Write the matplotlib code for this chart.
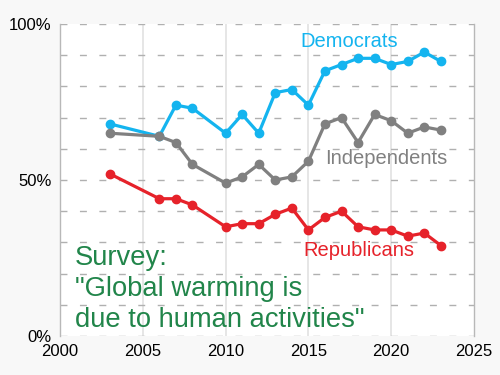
import matplotlib
matplotlib.use("Agg")
import matplotlib.pyplot as plt

plt.rcParams['font.family'] = ['Liberation Sans', 'DejaVu Sans']

years = [2003, 2006, 2007, 2008, 2010, 2011, 2012, 2013, 2014, 2015, 2016,
         2017, 2018, 2019, 2020, 2021, 2022, 2023]
democrats = [68, 64, 74, 73, 65, 71, 65, 78, 79, 74, 85, 87, 89, 89, 87, 88, 91, 88]
independents = [65, 64, 62, 55, 49, 51, 55, 50, 51, 56, 68, 70, 62, 71, 69, 65, 67, 66]
republicans = [52, 44, 44, 42, 35, 36, 36, 39, 41, 34, 38, 40, 35, 34, 34, 32, 33, 29]

x_ticks = [2000, 2005, 2010, 2015, 2020, 2025]
y_ticks = [0, 50, 100]
y_tick_labels = ['0%', '50%', '100%']
survey_lines = ['Survey:', '"Global warming is', 'due to human activities"']

c_dem = '#14b4ef'
c_ind = '#808080'
c_rep = '#e6222a'
c_green = '#21854a'

fig = plt.figure(figsize=(5, 3.75), dpi=100)
fig.patch.set_facecolor('#f8f8f8')
ax = fig.add_axes([0.12, 0.104, 0.828, 0.832])
ax.set_facecolor('white')
ax.set_xlim(2000, 2025)
ax.set_ylim(0, 100)

for v in [2005, 2010, 2015, 2020]:
    ax.axvline(v, color='#e4e4e4', lw=1.3, zorder=0)
for v in range(0, 101, 10):
    ax.axhline(v, color='#b0b0b0', lw=1.0, dashes=(5, 9), zorder=0)

for vals, col in [(democrats, c_dem), (independents, c_ind), (republicans, c_rep)]:
    ax.plot(years, vals, color=col, lw=2.3, marker='o', ms=6, zorder=3)

ax.text(2017.47, 94.5, 'Democrats', color=c_dem, fontsize=14.5, ha='center', va='center')
ax.text(2019.7, 57.0, 'Independents', color=c_ind, fontsize=14.5, ha='center', va='center')
ax.text(2018.04, 27.3, 'Republicans', color=c_rep, fontsize=14.5, ha='center', va='center')
for line, yb in zip(survey_lines, [22.8, 12.8, 3.0]):
    ax.text(2000.9, yb, line, color=c_green, fontsize=19.7, ha='left', va='baseline')

ax.set_xticks(x_ticks)
ax.set_yticks(y_ticks)
ax.set_yticklabels(y_tick_labels)
ax.tick_params(length=0, labelsize=12, pad=6, colors='black')
for side in ['top', 'bottom']:
    ax.spines[side].set_visible(False)
for side in ['left', 'right']:
    ax.spines[side].set_color('#b8b8b8')
    ax.spines[side].set_linewidth(1.0)

fig.savefig('out.png', dpi=100, facecolor=fig.get_facecolor())
